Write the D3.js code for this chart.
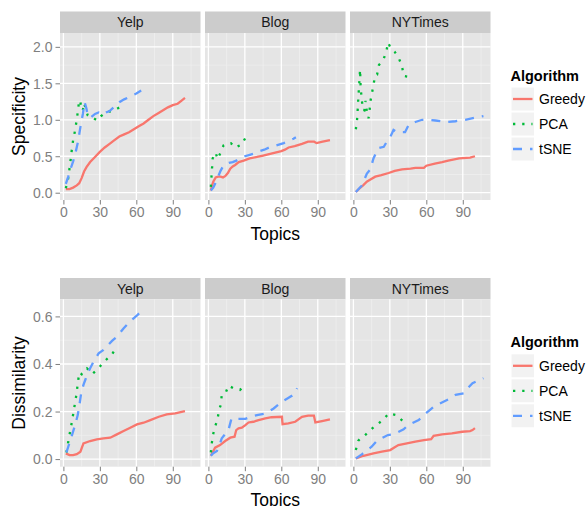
<!DOCTYPE html>
<html>
<head>
<meta charset="utf-8">
<script src="https://cdn.jsdelivr.net/npm/d3@7"></script>
<style>
  body { margin: 0; background: #fff; }
  text { font-family: "Liberation Sans", Arial, sans-serif; }
</style>
</head>
<body>
<div id="wrapper"></div>
<script>

// data: [topics, value]
const facets = ["Yelp", "Blog", "NYTimes"]
const algorithms = ["Greedy", "PCA", "tSNE"]
const xTicks = [0, 30, 60, 90]
const specTicks = [0, 0.5, 1, 1.5, 2]
const dissTicks = [0, 0.2, 0.4, 0.6]

const specYelpGreedy = [[2,.05],[5,.05],[8,.07],[11,.10],[13,.13],[15,.20],[17,.29],[19,.35],[22,.42],[26,.49],[30,.56],[34,.62],[38,.67],[42,.72],[46,.77],[50,.80],[54,.83],[58,.87],[62,.91],[66,.95],[70,1.00],[74,1.05],[78,1.09],[82,1.13],[86,1.17],[90,1.20],[94,1.22],[97,1.26],[100,1.30]]
const specYelpPCA = [[2,.06],[4,.20],[5,.33],[6,.46],[7,.60],[8,.72],[9,.80],[10,.90],[11,1.00],[12,1.13],[13,1.27],[14,1.24],[15,1.13],[16,1.13],[17,1.23],[18,1.17],[20,1.06],[22,1.03],[25,1.02],[28,.99],[31,1.05],[34,1.09],[37,1.11],[40,1.12],[44,1.15],[47,1.18]]
const specYelpTSNE = [[2,.12],[4,.22],[6,.33],[8,.43],[10,.55],[12,.70],[14,.90],[16,1.08],[17.5,1.24],[19,1.15],[20,1.05],[23,1.04],[26,1.08],[29,1.10],[32,1.07],[35,1.10],[38,1.12],[42,1.18],[46,1.24],[50,1.28],[55,1.32],[60,1.36],[64,1.40]]

const specBlogGreedy = [[2,.03],[3,.10],[4,.15],[6,.21],[8,.22],[10,.22],[12,.21],[14,.23],[16,.27],[18,.33],[20,.36],[22,.38],[25,.42],[29,.44],[34,.47],[40,.49],[45,.51],[50,.53],[55,.55],[60,.57],[63,.59],[66,.62],[71,.64],[77,.67],[82,.70],[87,.70],[89,.68],[94,.70],[100,.72]]
const specBlogPCA = [[2,.08],[2.5,.21],[3,.34],[3.5,.47],[5,.53],[6,.55],[7.5,.46],[10,.55],[12.5,.65],[14.5,.67],[18.5,.68],[22,.62],[27.5,.66],[31,.77]]
const specBlogTSNE = [[2,.03],[4,.07],[6,.14],[8,.22],[10,.30],[12,.36],[14,.39],[17,.41],[20,.42],[23,.44],[26,.47],[30,.50],[34,.52],[38,.54],[42,.57],[46,.59],[50,.62],[54,.64],[58,.66],[62,.68],[66,.71],[70,.74],[72,.76]]

const specNYGreedy = [[2,.01],[5,.06],[8,.10],[11,.15],[14,.18],[18,.22],[23,.24],[29,.27],[34,.30],[40,.32],[47,.33],[51,.34],[58,.34],[60,.37],[67,.40],[73,.42],[78,.44],[87,.47],[96,.48],[100,.50]]
const specNYPCA = [[2,.87],[3,1.00],[3.5,1.13],[4,1.28],[4.5,1.42],[5,1.55],[5.5,1.69],[6,1.42],[7,1.28],[7.5,1.14],[9,1.13],[10,1.26],[11,1.12],[12.4,1.02],[13.2,1.10],[13.8,1.24],[15,1.34],[16.5,1.48],[18,1.61],[19.5,1.62],[21,1.75],[22.5,1.78],[25,1.84],[27,1.93],[28.5,2.06],[30.5,1.99],[34,1.93],[37.5,1.84],[40,1.73],[41.5,1.60],[45.5,1.59]]
const specNYTSNE = [[2,.01],[7,.10],[11,.26],[14,.32],[16.5,.47],[20.5,.61],[25,.63],[27.5,.70],[30.5,.77],[33,.86],[36,.83],[42.5,.83],[45.5,.93],[51,.97],[56.5,1.00],[62,1.00],[67.5,.99],[76,.97],[84,.98],[92,1.00],[100.5,1.03],[107,1.05]]

const dissYelpGreedy = [[2,.024],[5,.017],[8,.017],[11,.021],[14,.031],[16.5,.066],[22,.076],[27.5,.083],[33,.087],[38.5,.09],[44,.104],[49.5,.118],[55,.132],[60.5,.146],[66,.153],[71.5,.164],[78.5,.178],[85,.188],[92,.192],[100,.202]]
const dissYelpPCA = [[2.5,.028],[4,.073],[5.5,.115],[7,.157],[8.3,.197],[9.6,.237],[11,.28],[11.8,.32],[13.2,.365],[15,.357],[16.5,.371],[19.3,.382],[24,.358],[29.5,.386],[34.4,.414],[40,.441],[44,.473]]
const dissYelpTSNE = [[2.5,.028],[4,.052],[7,.10],[9.6,.143],[11.8,.185],[13.2,.228],[14.6,.277],[16.5,.312],[18.5,.34],[20,.36],[22,.382],[24.8,.41],[29,.445],[33,.459],[40,.497],[44,.515],[49.6,.55],[55,.58],[60.6,.604],[65.5,.63]]

const dissBlogGreedy = [[2,.014],[5.5,.048],[9.6,.059],[13.8,.076],[18,.09],[21.5,.094],[22.9,.122],[24.8,.129],[27.5,.132],[30.4,.143],[33,.154],[37,.157],[41.3,.164],[46.8,.171],[52,.176],[60.5,.178],[61,.147],[65.8,.15],[71.4,.157],[77,.178],[82,.183],[86.8,.183],[88,.154],[93.5,.16],[100,.167]]
const dissBlogPCA = [[2,.028],[2.8,.067],[4.1,.109],[5.5,.137],[7.4,.165],[8.8,.207],[10.2,.228],[11,.27],[14.3,.28],[16.5,.309],[20.6,.298],[26,.291],[30.3,.312]]
const dissBlogTSNE = [[2,.014],[4,.025],[7,.034],[9.6,.066],[11,.087],[13,.10],[16.5,.122],[19,.171],[22,.169],[26,.169],[30.4,.169],[35,.178],[40,.185],[46.8,.192],[53.7,.213],[60.6,.242],[65,.255],[68.9,.267],[71.6,.284],[73,.298]]

const dissNYGreedy = [[2,.003],[8.3,.014],[16.5,.024],[23.4,.031],[30.3,.038],[34,.05],[37,.059],[44,.066],[51,.073],[58,.08],[64,.084],[66,.098],[73,.104],[81,.108],[89.5,.115],[96,.118],[98,.122],[100,.13]]
const dissNYPCA = [[2,.038],[4,.077],[6,.088],[9.6,.10],[14.8,.126],[19.6,.146],[24.5,.165],[29,.192],[36,.184],[40.5,.16],[43,.145]]
const dissNYTSNE = [[2,.003],[6.9,.02],[15,.052],[19.3,.077],[24,.09],[28.4,.101],[33,.104],[41.3,.125],[45,.143],[53.7,.164],[57.9,.185],[66,.22],[71.6,.235],[80,.256],[84,.27],[91,.277],[94,.298],[98,.319],[107,.34]]

const specData = [
  [specYelpGreedy, specYelpPCA, specYelpTSNE],
  [specBlogGreedy, specBlogPCA, specBlogTSNE],
  [specNYGreedy, specNYPCA, specNYTSNE],
]
const dissData = [
  [dissYelpGreedy, dissYelpPCA, dissYelpTSNE],
  [dissBlogGreedy, dissBlogPCA, dissBlogTSNE],
  [dissNYGreedy, dissNYPCA, dissNYTSNE],
]

// styles
const colors = ["#F8766D", "#00BA38", "#619CFF"]
const dashes = [null, "2.3,6.9", "9,8"]
const lineWidth = 2.3

// layout
const dimensions = { width: 587, height: 506 }
const panelLefts = [60, 205, 350]
const panelWidth = 140.5

const rows = [
  { title: "Specificity", data: specData, ticks: specTicks,
    domain: [-0.1, 2.19], stripTop: 11.5, top: 33, bottom: 200, legendTop: 80.5 },
  { title: "Dissimilarity", data: dissData, ticks: dissTicks,
    domain: [-0.032, 0.672], stripTop: 278, top: 299.3, bottom: 466.7, legendTop: 347.3 },
]

const svg = d3.select("#wrapper")
  .append("svg")
    .attr("width", dimensions.width)
    .attr("height", dimensions.height)

svg.append("rect")
    .attr("width", dimensions.width)
    .attr("height", dimensions.height)
    .attr("fill", "#fff")

const xScales = panelLefts.map(left => d3.scaleLinear()
  .domain([-2.8, 112.8])
  .range([left, left + panelWidth]))

const midpoints = ticks => d3.pairs(ticks).map(([a, b]) => (a + b) / 2)

rows.forEach(row => {
  const yScale = d3.scaleLinear()
    .domain(row.domain)
    .range([row.bottom, row.top])

  const yMinor = midpoints(row.ticks)
  const xMinor = midpoints(xTicks).concat([105])

  facets.forEach((facet, i) => {
    const xScale = xScales[i]
    const left = panelLefts[i]
    const g = svg.append("g")

    // strip
    g.append("rect")
        .attr("x", left)
        .attr("y", row.stripTop)
        .attr("width", panelWidth)
        .attr("height", row.top - row.stripTop)
        .attr("fill", "#CCCCCC")
    g.append("text")
        .attr("x", left + panelWidth / 2)
        .attr("y", (row.stripTop + row.top) / 2 + 5)
        .attr("text-anchor", "middle")
        .attr("font-size", 14)
        .attr("fill", "#1a1a1a")
        .text(facet)

    // panel + grid
    g.append("rect")
        .attr("x", left)
        .attr("y", row.top)
        .attr("width", panelWidth)
        .attr("height", row.bottom - row.top)
        .attr("fill", "#E5E5E5")

    g.selectAll(".ymin").data(yMinor).enter().append("line")
        .attr("x1", left).attr("x2", left + panelWidth)
        .attr("y1", d => yScale(d)).attr("y2", d => yScale(d))
        .attr("stroke", "#F2F2F2").attr("stroke-width", 0.6)
    g.selectAll(".xmin").data(xMinor).enter().append("line")
        .attr("y1", row.top).attr("y2", row.bottom)
        .attr("x1", d => xScale(d)).attr("x2", d => xScale(d))
        .attr("stroke", "#F2F2F2").attr("stroke-width", 0.6)
    g.selectAll(".ymaj").data(row.ticks).enter().append("line")
        .attr("x1", left).attr("x2", left + panelWidth)
        .attr("y1", d => yScale(d)).attr("y2", d => yScale(d))
        .attr("stroke", "#fff").attr("stroke-width", 1.3)
    g.selectAll(".xmaj").data(xTicks).enter().append("line")
        .attr("y1", row.top).attr("y2", row.bottom)
        .attr("x1", d => xScale(d)).attr("x2", d => xScale(d))
        .attr("stroke", "#fff").attr("stroke-width", 1.3)

    // x axis
    const xAxis = g.append("g")
        .attr("transform", `translate(0, ${row.bottom})`)
        .call(d3.axisBottom(xScale).tickValues(xTicks).tickSize(4.5).tickPadding(3))
    xAxis.select(".domain").remove()
    xAxis.selectAll("line").attr("stroke", "#7F7F7F")
    xAxis.selectAll("text")
        .attr("font-size", 14)
        .attr("font-family", "Liberation Sans, Arial, sans-serif")
        .attr("fill", "#7F7F7F")

    // y axis on the first panel only
    if (i === 0) {
      const yAxis = g.append("g")
          .attr("transform", `translate(${left}, 0)`)
          .call(d3.axisLeft(yScale).tickValues(row.ticks).tickFormat(d3.format(".1f")).tickSize(4.5).tickPadding(3))
      yAxis.select(".domain").remove()
      yAxis.selectAll("line").attr("stroke", "#7F7F7F")
      yAxis.selectAll("text")
          .attr("font-size", 14)
          .attr("font-family", "Liberation Sans, Arial, sans-serif")
          .attr("fill", "#7F7F7F")
          .attr("dy", "0.35em")
    }

    // lines
    const line = d3.line()
      .x(d => xScale(d[0]))
      .y(d => yScale(d[1]))

    row.data[i].forEach((series, k) => {
      g.append("path")
          .datum(series)
          .attr("d", line)
          .attr("fill", "none")
          .attr("stroke", colors[k])
          .attr("stroke-width", lineWidth)
          .attr("stroke-dasharray", dashes[k])
    })
  })

  // axis titles
  svg.append("text")
      .attr("x", (panelLefts[0] + panelLefts[2] + panelWidth) / 2)
      .attr("y", row.bottom + 39.5)
      .attr("text-anchor", "middle")
      .attr("font-size", 17.5)
      .text("Topics")

  svg.append("text")
      .attr("transform", `translate(24.5, ${(row.top + row.bottom) / 2}) rotate(-90)`)
      .attr("text-anchor", "middle")
      .attr("font-size", 17.5)
      .text(row.title)

  // legend
  const legend = svg.append("g")
  legend.append("text")
      .attr("x", 510.5)
      .attr("y", row.legendTop)
      .attr("font-size", 14.5)
      .attr("font-weight", "bold")
      .text("Algorithm")

  algorithms.forEach((name, k) => {
    const y = row.legendTop + 6.5 + k * 25
    legend.append("rect")
        .attr("x", 511)
        .attr("y", y)
        .attr("width", 23.5)
        .attr("height", 24)
        .attr("fill", "#F2F2F2")
        .attr("stroke", "#fff")
        .attr("stroke-width", 1)
    legend.append("line")
        .attr("x1", 513).attr("x2", 532.5)
        .attr("y1", y + 12).attr("y2", y + 12)
        .attr("stroke", colors[k])
        .attr("stroke-width", lineWidth)
        .attr("stroke-dasharray", dashes[k])
    legend.append("text")
        .attr("x", 539)
        .attr("y", y + 17)
        .attr("font-size", 14)
        .text(name)
  })
})
</script>
</body>
</html>
